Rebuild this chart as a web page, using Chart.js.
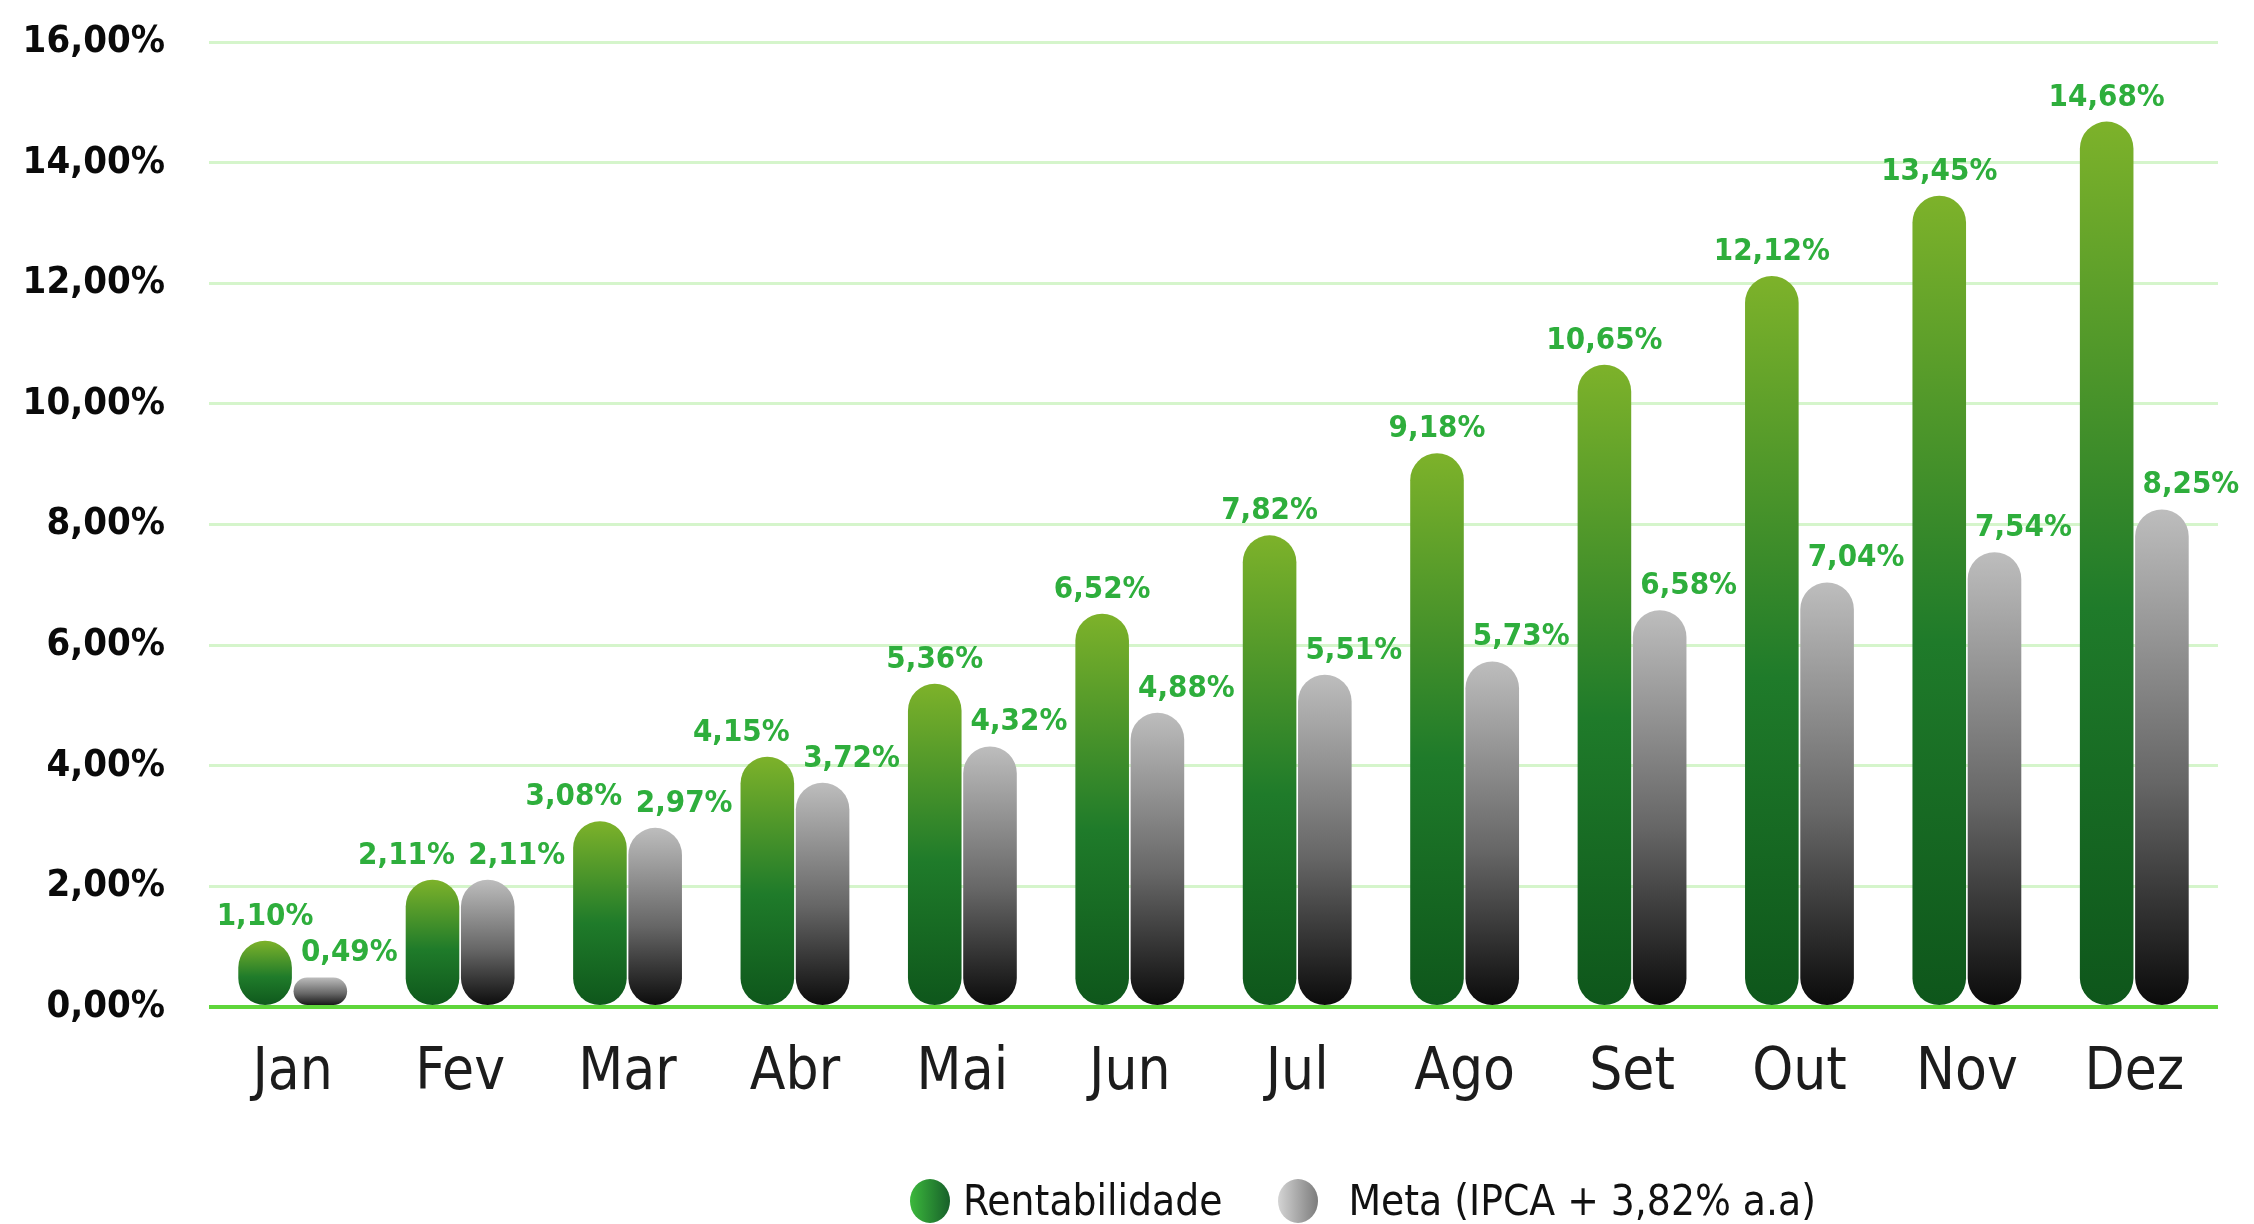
<!DOCTYPE html>
<html lang="pt-BR">
<head>
<meta charset="utf-8">
<title>Rentabilidade x Meta</title>
<script src="https://cdn.jsdelivr.net/npm/chart.js@4.4.0/dist/chart.umd.min.js"></script>
<style>
  html, body { margin: 0; padding: 0; background: #fff; }
  #wrap { position: relative; width: 2254px; height: 1224px; overflow: hidden; }
  #legend {
    position: absolute; left: 910px; top: 1178px;
    display: flex; align-items: center;
    font-family: 'DejaVu Sans Condensed', 'DejaVu Sans', sans-serif;
    font-size: 42px; line-height: 46px; color: #111;
  }
  #legend .item { display: flex; align-items: center; margin-right: 56px; }
  #legend .dot { display: inline-block; width: 40px; height: 44px; border-radius: 50%; margin-right: 13px; }
  #legend .gray { margin-right: 30px; }
  #legend .green { background: linear-gradient(90deg, #3cb83c, #17602a); }
  #legend .gray { background: linear-gradient(90deg, #d4d4d4, #7c7c7c); }
</style>
</head>
<body>
<div id="wrap">
  <canvas id="rentChart" width="2254" height="1224"></canvas>
  <div id="legend">
    <span class="item"><i class="dot green"></i>Rentabilidade</span>
    <span class="item"><i class="dot gray"></i>Meta (IPCA + 3,82% a.a)</span>
  </div>
</div>
<script>
const months = ['Jan', 'Fev', 'Mar', 'Abr', 'Mai', 'Jun', 'Jul', 'Ago', 'Set', 'Out', 'Nov', 'Dez'];
const rentabilidade = [1.10, 2.11, 3.08, 4.15, 5.36, 6.52, 7.82, 9.18, 10.65, 12.12, 13.45, 14.68];
const meta = [0.49, 2.11, 2.97, 3.72, 4.32, 4.88, 5.51, 5.73, 6.58, 7.04, 7.54, 8.25];
const yMax = 16;
const yStep = 2;

const FONT = "'DejaVu Sans Condensed', 'DejaVu Sans', sans-serif";
const LABEL_GREEN = '#2eae3c';

function pct(v) {
    return v.toFixed(2).replace('.', ',') + '%';
}

// vertical gradient per bar, from its top down to the zero line
function barFill(stops) {
    return (c) => {
        const chart = c.chart;
        if (c.type !== 'data' || !chart.chartArea) return stops[0][1];
        const y = chart.scales.y;
        const top = y.getPixelForValue(c.raw);
        const bottom = y.getPixelForValue(0);
        const g = chart.ctx.createLinearGradient(0, top, 0, bottom);
        stops.forEach(s => g.addColorStop(s[0], s[1]));
        return g;
    };
}

// value labels above the bars; the meta label sits a bit to the right,
// and the green one moves left when both labels would collide
const valueLabels = {
    id: 'valueLabels',
    afterDatasetsDraw(chart) {
        const ctx = chart.ctx;
        ctx.save();
        ctx.font = 'bold 31px ' + FONT;
        ctx.fillStyle = LABEL_GREEN;
        ctx.textAlign = 'center';
        ctx.textBaseline = 'alphabetic';
        const green = chart.getDatasetMeta(0).data;
        const gray = chart.getDatasetMeta(1).data;
        months.forEach((m, i) => {
            const close = Math.abs(rentabilidade[i] - meta[i]) < 0.5;
            const gb = green[i], mb = gray[i];
            ctx.fillText(pct(rentabilidade[i]), gb.x - (close ? 26 : 0), gb.y - 16);
            ctx.fillText(pct(meta[i]), mb.x + 29, mb.y - 16);
        });
        ctx.restore();
    }
};

Chart.defaults.font.family = FONT;

new Chart(document.getElementById('rentChart'), {
    type: 'bar',
    data: {
        labels: months,
        datasets: [{
            label: 'Rentabilidade',
            data: rentabilidade,
            backgroundColor: barFill([[0, '#7db22a'], [0.55, '#1f7b2a'], [1, '#0e561b']]),
            borderRadius: 100,
            borderSkipped: false,
            borderWidth: 0,
            categoryPercentage: 0.66,
            barPercentage: 0.97
        }, {
            label: 'Meta (IPCA + 3,82% a.a)',
            data: meta,
            backgroundColor: barFill([[0, '#bdbdbd'], [0.55, '#666666'], [1, '#0a0a0a']]),
            borderRadius: 100,
            borderSkipped: false,
            borderWidth: 0,
            categoryPercentage: 0.66,
            barPercentage: 0.97
        }]
    },
    options: {
        responsive: false,
        devicePixelRatio: 1,
        animation: false,
        layout: { padding: { top: 42, right: 36, bottom: 107, left: 0 } },
        plugins: {
            legend: { display: false },
            tooltip: { enabled: false }
        },
        scales: {
            x: {
                grid: { display: false },
                border: { display: false },
                ticks: { color: '#1c1c1c', font: { size: 58 }, padding: 24 },
                afterFit: (s) => { s.height = 110; }
            },
            y: {
                min: 0,
                max: yMax,
                grid: {
                    drawTicks: false,
                    color: (c) => c.tick && c.tick.value === 0 ? '#5fd63a' : '#d5f5cb',
                    lineWidth: (c) => c.tick && c.tick.value === 0 ? 4 : 3
                },
                border: { display: false },
                ticks: {
                    stepSize: yStep,
                    padding: 44,
                    color: '#0a0a0a',
                    font: { size: 38, weight: 'bold' },
                    callback: (v) => pct(v)
                },
                afterFit: (s) => {
                    s.width = 209;
                    s.paddingTop = 0;
                    s.paddingBottom = 0;
                }
            }
        }
    },
    plugins: [valueLabels]
});
</script>
</body>
</html>
